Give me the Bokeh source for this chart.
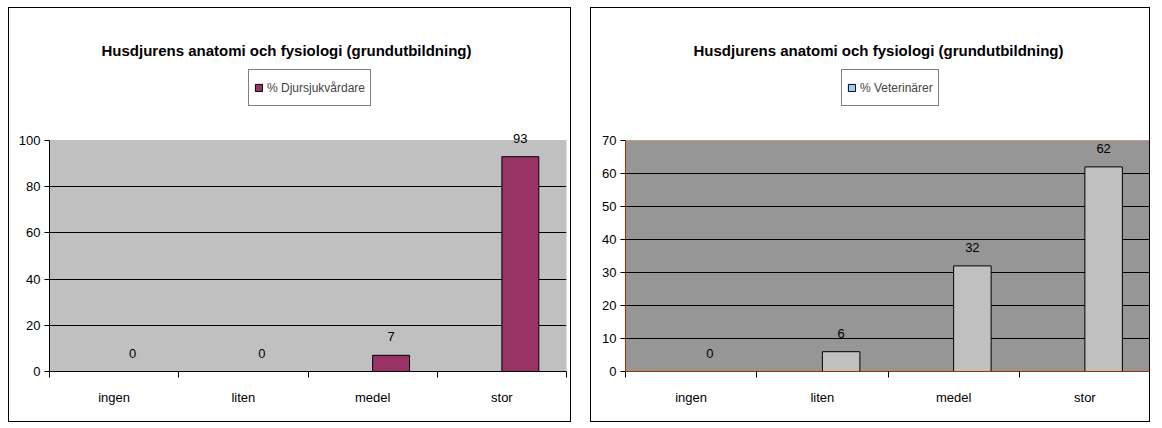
import numpy as np
from bokeh.plotting import figure
from bokeh.models import (ColumnDataSource, FixedTicker, Legend, LegendItem, Label,
                          LabelSet, Range1d, BoxAnnotation)
from bokeh.core.properties import value
from bokeh.layouts import row
from bokeh.embed import file_html
from bokeh.resources import INLINE

# ---- data ----
categories = ["ingen", "liten", "medel", "stor"]
djur = [0, 0, 7, 93]
vet = [0, 6, 32, 62]
title_text = "Husdjurens anatomi och fysiologi (grundutbildning)"
legend_djur = "% Djursjukvårdare"
legend_vet = "% Veterinärer"
left_yticks = [0, 20, 40, 60, 80, 100]
right_yticks = [0, 10, 20, 30, 40, 50, 60, 70]

FONT = "Liberation Sans"
BAR_W = 1 / 3.5          # two-series cluster, gap width 150 %
FRAME_H = 341            # frame includes space for title/legend
PLOT_H = 231             # pixel height of the grey plot area


def make_chart(values, bar_color, bg_color, legend_label, legend_color, yticks,
               frame_color, axis_color, width, left_b, right_b, title_x, legend_x):
    n = len(categories)
    ymax = yticks[-1]
    y_end = ymax * FRAME_H / PLOT_H
    p = figure(width=width, height=415,
               x_range=Range1d(-0.5, n - 0.5), y_range=Range1d(yticks[0], y_end),
               output_backend="svg", toolbar_location=None,
               min_border_left=left_b, min_border_right=right_b,
               min_border_top=22, min_border_bottom=52)
    p.styles = {"border": "1px solid black"}
    p.background_fill_color = "white"
    p.border_fill_color = "white"
    p.outline_line_color = None

    # grey plot area
    p.add_layout(BoxAnnotation(bottom=0, top=ymax, fill_color=bg_color, fill_alpha=1,
                               line_color=frame_color, line_width=1, level="image"))

    # bars (second slot of a two-series cluster)
    xs = [i + BAR_W / 2 for i in range(n)]
    src = ColumnDataSource(dict(x=xs, top=values, lab=[str(v) for v in values]))
    p.vbar(x="x", top="top", width=BAR_W, source=src,
           fill_color=bar_color, line_color="black", line_width=1)
    p.add_layout(LabelSet(x="x", y="top", text="lab", source=src,
                          text_align="center", text_baseline="alphabetic",
                          y_offset=14, text_font=value(FONT), text_font_size="13px",
                          text_color="black"))

    # x axis: labels centred, tick marks on category boundaries
    xa = p.xaxis[0]
    xa.ticker = FixedTicker(ticks=list(range(n)),
                            minor_ticks=[i - 0.5 for i in range(n + 1)])
    xa.major_label_overrides = {i: c for i, c in enumerate(categories)}
    xa.major_tick_out = 0
    xa.major_tick_in = 0
    xa.minor_tick_out = 6
    xa.minor_tick_in = 0
    xa.minor_tick_line_color = "black"
    xa.axis_line_color = axis_color
    xa.major_label_standoff = 12
    xa.major_label_text_font = FONT
    xa.major_label_text_font_size = "13px"
    xa.major_label_text_color = "black"

    ya = p.yaxis[0]
    ya.ticker = FixedTicker(ticks=yticks)
    ya.bounds = (yticks[0], ymax)
    ya.major_tick_out = 5
    ya.major_tick_in = 0
    ya.minor_tick_out = 0
    ya.minor_tick_in = 0
    ya.axis_line_color = axis_color
    ya.major_tick_line_color = "black"
    ya.major_label_standoff = 4
    ya.major_label_text_font = FONT
    ya.major_label_text_font_size = "13px"
    ya.major_label_text_color = "black"

    p.xgrid.visible = False
    p.ygrid.ticker = FixedTicker(ticks=yticks[1:-1])
    p.ygrid.grid_line_color = "black"
    p.ygrid.grid_line_width = 1

    # legend swatch: a renderer whose only value is NaN (draws nothing in the plot)
    swatch_src = ColumnDataSource(dict(x=np.array([0.0]), top=np.array([np.nan])))
    dummy = p.vbar(x="x", top="top", width=BAR_W, source=swatch_src,
                   fill_color=legend_color, line_color="black")
    leg = Legend(items=[LegendItem(label=legend_label, renderers=[dummy])],
                 location=(legend_x, 265), orientation="horizontal",
                 border_line_color="black", border_line_width=1,
                 background_fill_color="white", background_fill_alpha=1,
                 glyph_width=9, glyph_height=9, label_standoff=4,
                 label_height=25, padding=5, margin=0,
                 label_text_font=FONT, label_text_font_size="12px")
    p.add_layout(leg)

    p.add_layout(Label(x=title_x, y=321, x_units="screen", y_units="screen",
                       text=title_text, text_align="center", text_baseline="middle",
                       text_font=FONT, text_font_size="15px", text_font_style="bold",
                       text_color="black"))
    return p


p1 = make_chart(djur, "#993366", "#C0C0C0", legend_djur, "#993366", left_yticks,
                "#808080", "black", 563, 40, 6, 237, 199)
p2 = make_chart(vet, "#C0C0C0", "#969696", legend_vet, "#99CCFF", right_yticks,
                "#993300", "#993300", 560, 34, 1, 253, 216)

layout = row(p1, p2, spacing=19, margin=(7, 0, 0, 8))
open("out.html", "w").write(file_html(layout, INLINE))
